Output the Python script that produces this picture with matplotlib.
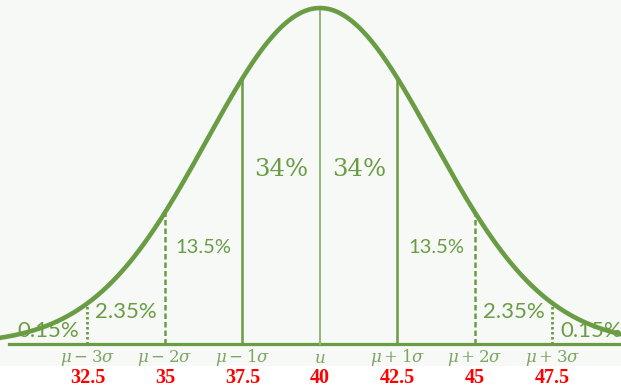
import numpy as np
import matplotlib
matplotlib.use("Agg")
import matplotlib.pyplot as plt
from matplotlib.patches import Rectangle

# chart values
mean = 40
sd = 2.5
values = [32.5, 35, 37.5, 40, 42.5, 45, 47.5]
sigma_labels = [r"$\mu-3\sigma$", r"$\mu-2\sigma$", r"$\mu-1\sigma$", r"$u$",
                r"$\mu+1\sigma$", r"$\mu+2\sigma$", r"$\mu+3\sigma$"]
pct_labels = ["0.15%", "2.35%", "13.5%", "34%", "34%", "13.5%", "2.35%", "0.15%"]

GREEN = "#6a9c44"
LIGHT = "#8fb878"
LABEL = "#7fa465"

plt.rcParams["mathtext.fontset"] = "dejavuserif"

fig = plt.figure(figsize=(6.21, 3.88), dpi=100)
ax = fig.add_axes([0, 0, 1, 1])
ax.set_facecolor("none")
ax.set_xlim(29.68, 49.71)
ax.set_ylim(-44 / 336, 344 / 336)
ax.axis("off")
# light panel behind the curve, white strip for the red numbers
ax.add_patch(Rectangle((0, 22 / 388), 1, 1, transform=fig.transFigure,
                       facecolor="#f7f9f6", edgecolor="none", zorder=0, clip_on=False))

# bell shape (drawn wider than the sd so the sigma marks sit where the picture has them)
spread = 1.46 * sd
def bell(x):
    return np.exp(-(np.asarray(x) - mean) ** 2 / (2 * spread ** 2))

xs = np.linspace(29.4, 50, 400)
ax.plot(xs, bell(xs), color=GREEN, lw=3.3, solid_capstyle="round", zorder=3)
ax.plot([29.97, 50], [0, 0], color=GREEN, lw=2.3, zorder=2)

# vertical markers
styles = {1: dict(ls="-", lw=1.8), 2: dict(ls=(0, (2.2, 1.2)), lw=1.8), 3: dict(ls=(0, (0.9, 0.9)), lw=2.0)}
for v in values:
    k = int(round(abs(v - mean) / sd))
    if k == 0:
        ax.plot([v, v], [0, bell(v)], color=LIGHT, lw=1.4, zorder=2)
    else:
        ax.plot([v, v], [0, bell(v)], color=GREEN, zorder=2, **styles[k])

# percentages, centred in each band (tails sit under the curve like the original)
edges = [values[0] - sd] + values + [values[-1] + sd]
heights = [0.04, 0.095, 0.286, 0.52, 0.52, 0.286, 0.095, 0.04]
sizes = {"34%": 17.5, "13.5%": 14.5, "2.35%": 16, "0.15%": 16}
for i, txt in enumerate(pct_labels):
    xc = (edges[i] + edges[i + 1]) / 2 if 0 < i < 7 else (values[0] - sd / 2 if i == 0 else values[-1] + sd / 2)
    fam = "DejaVu Serif" if txt == "34%" else "Lato"
    ax.text(xc, heights[i], txt, color=GREEN, fontsize=sizes[txt], family=fam,
            ha="center", va="center", zorder=2.5)

# axis labels
for v, lab in zip(values, sigma_labels):
    ax.text(v, -14 / 336, lab, color=LABEL, fontsize=12, ha="center", va="center")
    ax.text(v, -34 / 336, f"{v:g}", color="#ff0000", fontsize=14.5, family="Liberation Serif",
            fontweight="bold", ha="center", va="center")

fig.savefig("out.png", dpi=100)
